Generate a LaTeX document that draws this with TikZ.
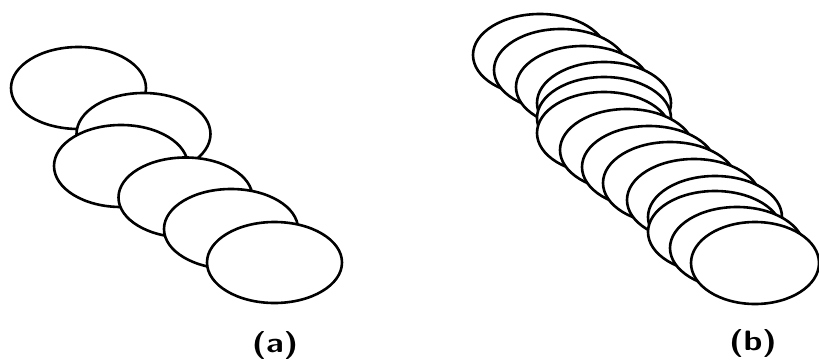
\documentclass[tikz,border=0pt]{standalone}
\begin{document}
\begin{tikzpicture}[x=1pt,y=-1pt,
  coin/.style={draw=black,fill=white,line width=2.6pt},
  tag/.style={font=\sffamily\bfseries\fontsize{28}{28}\selectfont}]
\useasboundingbox (0,0) rectangle (819,361);
% (a) disks spread along a line
\begin{scope}
\filldraw[coin] (78.5,88) ellipse (67.5 and 41);
\filldraw[coin] (143.5,134) ellipse (67 and 41);
\filldraw[coin] (121,166) ellipse (67 and 41);
\filldraw[coin] (185.5,197.5) ellipse (67 and 40);
\filldraw[coin] (231,229) ellipse (67 and 40);
\filldraw[coin] (274.5,262.5) ellipse (67.5 and 40.5);
\node[tag] (lbla) at (275,345) {\scalebox{1.2}[1]{(a)}};
\end{scope}
% (b) disks packed close
\begin{scope}
\filldraw[coin] (540,55) ellipse (67 and 41);
\filldraw[coin] (561,70) ellipse (67 and 41);
\filldraw[coin] (583,87) ellipse (67 and 41);
\filldraw[coin] (604,103) ellipse (67 and 41);
\filldraw[coin] (604,118) ellipse (67 and 41);
\filldraw[coin] (604,133) ellipse (67 and 41);
\filldraw[coin] (627,150) ellipse (67 and 41);
\filldraw[coin] (649,167) ellipse (67 and 41);
\filldraw[coin] (670,183) ellipse (67 and 41);
\filldraw[coin] (694,200) ellipse (67 and 41);
\filldraw[coin] (715,217) ellipse (67 and 41);
\filldraw[coin] (715,232) ellipse (67 and 41);
\filldraw[coin] (737,248) ellipse (67 and 41);
\filldraw[coin] (755,263) ellipse (64 and 41);
\node[tag] (lblb) at (753,343) {\scalebox{1.2}[1]{(b)}};
\end{scope}
\end{tikzpicture}
\end{document}
